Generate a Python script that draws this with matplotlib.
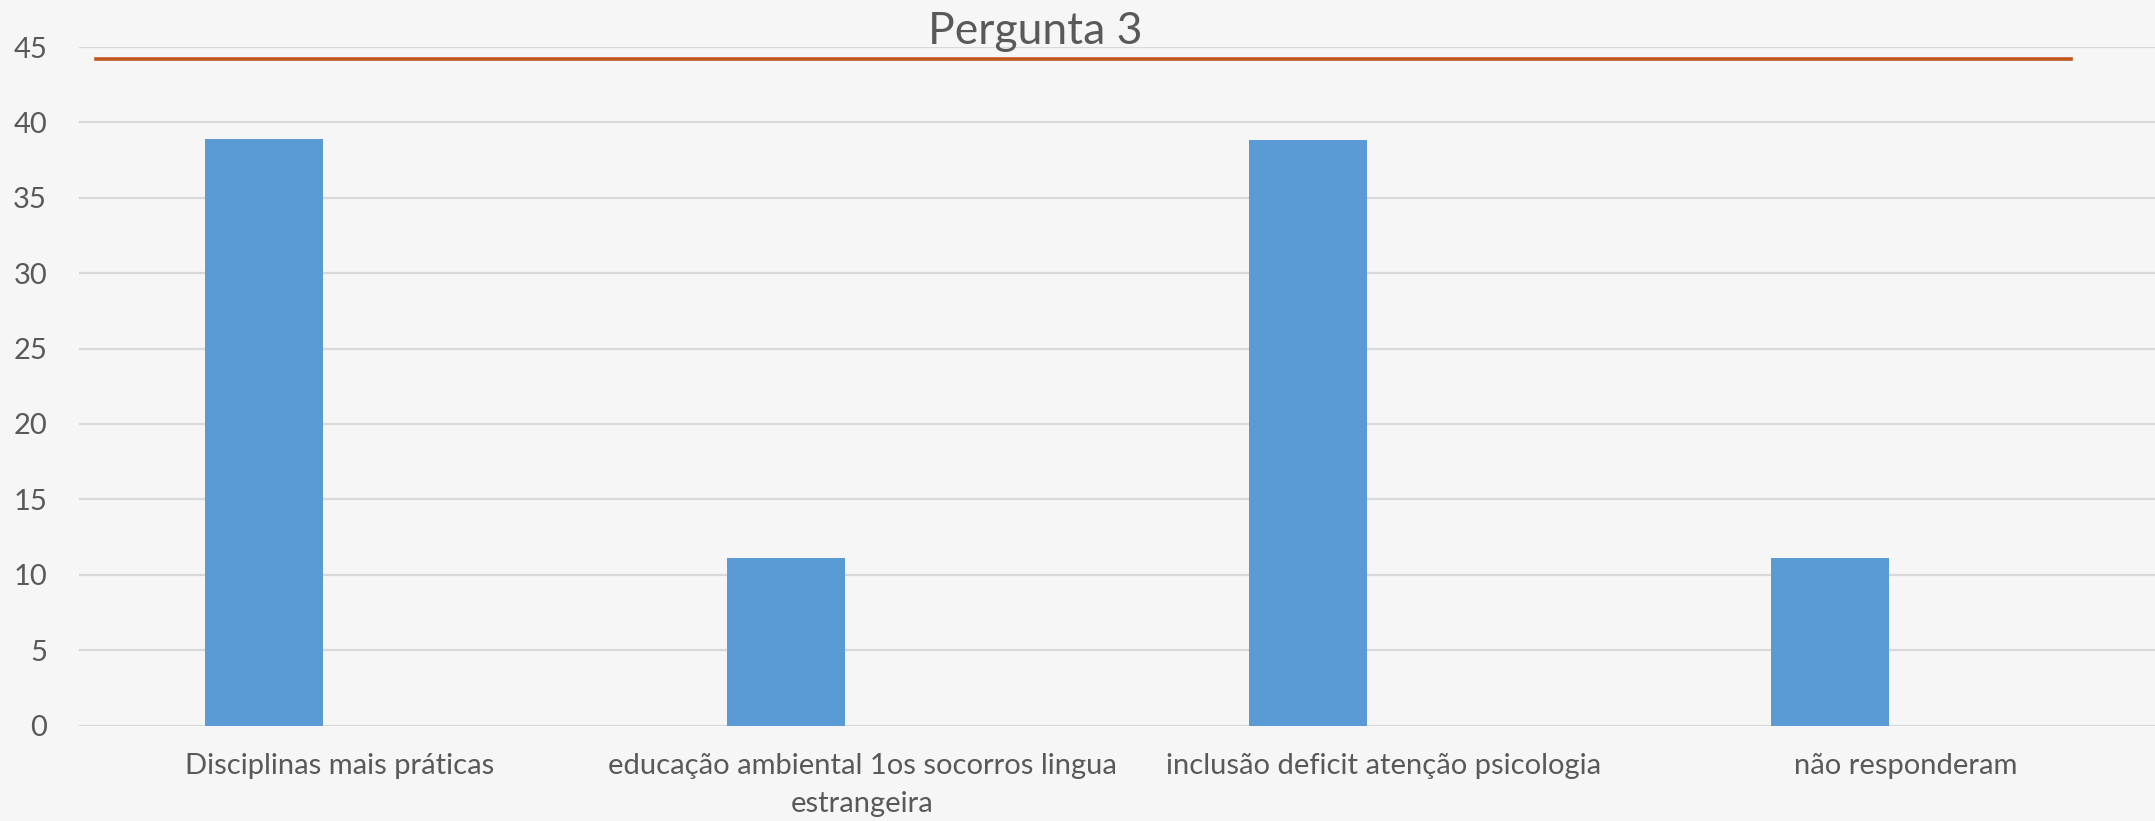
import matplotlib
matplotlib.use("Agg")
import matplotlib.pyplot as plt
import numpy as np

# data
categories = [
    "Disciplinas mais práticas",
    "educação ambiental 1os socorros lingua\nestrangeira",
    "inclusão deficit atenção psicologia",
    "não responderam",
]
values = [38.9, 11.1, 38.8, 11.1]
ref_value = 44.2
y_ticks = [0, 5, 10, 15, 20, 25, 30, 35, 40, 45]

plt.rcParams["font.family"] = ["Lato", "DejaVu Sans"]

W, H = 2155, 821
fig = plt.figure(figsize=(W / 100, H / 100), dpi=100)
fig.patch.set_facecolor("#f6f6f6")

# plot area (right side runs a bit past the image edge, like the original)
ax = fig.add_axes([79 / W, 1 - 725.5 / H, 2088 / W, (725.5 - 47) / H])
ax.set_facecolor("none")

x = np.arange(len(categories))
ax.bar(x - 0.146, values, width=0.226, color="#5b9bd5", zorder=3)

# reference line
ax.axhline(ref_value, xmin=0.008, xmax=0.954, color="#c0561e", lw=2.6, zorder=4)

ax.set_xlim(-0.5, len(categories) - 0.5)
ax.set_ylim(0, 45)
ax.set_yticks(y_ticks)
ax.set_xticks(x)
ax.set_xticklabels(categories, fontsize=21, color="#595959", linespacing=1.58)
ax.tick_params(axis="x", length=0, pad=19.5)
ax.tick_params(axis="y", length=0, pad=23, labelsize=21, labelcolor="#595959")

ax.grid(axis="y", color="#d9d9d9", lw=1.6, zorder=0)
for s in ax.spines.values():
    s.set_visible(False)

fig.text(1035 / W, 1 - 32 / H, "Pergunta 3", ha="center", va="center",
         fontsize=32, color="#595959")

fig.savefig("out.png", dpi=100, facecolor=fig.get_facecolor())
